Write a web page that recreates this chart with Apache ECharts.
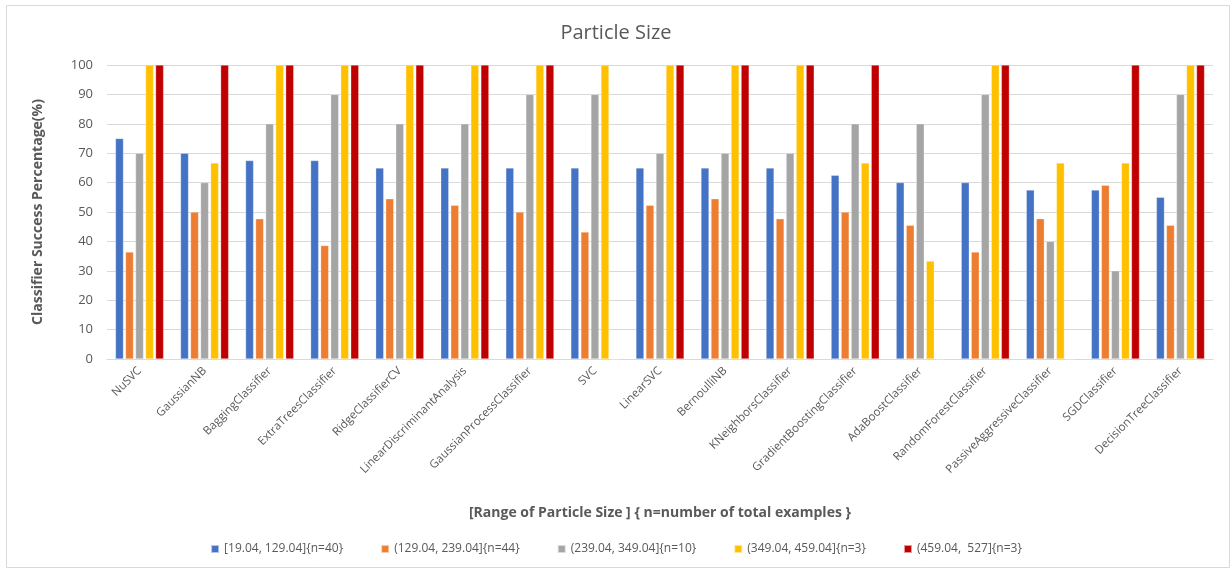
<!DOCTYPE html>
<html>
<head>
<meta charset="utf-8">
<script src="https://cdn.jsdelivr.net/npm/echarts@6/dist/echarts.min.js"></script>
<style>
  html, body { margin: 0; padding: 0; background: #fff; }
  #chart { width: 1232px; height: 574px; }
</style>
</head>
<body>
<div id="chart"></div>
<script>
// Classifier names along the x axis
const classifiers = [
  'NuSVC', 'GaussianNB', 'BaggingClassifier', 'ExtraTreesClassifier', 'RidgeClassifierCV',
  'LinearDiscriminantAnalysis', 'GaussianProcessClassifier', 'SVC', 'LinearSVC', 'BernoulliNB',
  'KNeighborsClassifier', 'GradientBoostingClassifier', 'AdaBoostClassifier', 'RandomForestClassifier',
  'PassiveAggressiveClassifier', 'SGDClassifier', 'DecisionTreeClassifier'
];

// Particle size ranges (one series per range)
const rangeNames = [
  '[19.04, 129.04]{n=40}',
  '(129.04, 239.04]{n=44}',
  '(239.04, 349.04]{n=10}',
  '(349.04, 459.04]{n=3}',
  '(459.04,  527]{n=3}'
];

// Success percentage per classifier for each range
const range1 = [75, 70, 67.5, 67.5, 65, 65, 65, 65, 65, 65, 65, 62.5, 60, 60, 57.5, 57.5, 55];
const range2 = [36.4, 50, 47.7, 38.6, 54.5, 52.3, 50, 43.2, 52.3, 54.5, 47.7, 50, 45.5, 36.4, 47.7, 59.1, 45.5];
const range3 = [70, 60, 80, 90, 80, 80, 90, 90, 70, 70, 70, 80, 80, 90, 40, 30, 90];
const range4 = [100, 66.7, 100, 100, 100, 100, 100, 100, 100, 100, 100, 66.7, 33.3, 100, 66.7, 66.7, 100];
const range5 = [100, 100, 100, 100, 100, 100, 100, 0, 100, 100, 100, 100, 0, 100, 0, 100, 100];

const yTicks = { min: 0, max: 100, interval: 10 };

const seriesData = [range1, range2, range3, range4, range5];
const colors = ['#4472c4', '#ed7d31', '#a5a5a5', '#ffc000', '#c00000'];

const textColor = '#595959';
const fontFamily = '"Open Sans", "Liberation Sans", sans-serif';

const chart = echarts.init(document.getElementById('chart'), null, { renderer: 'canvas' });

chart.setOption({
  backgroundColor: '#fff',
  animation: false,
  color: colors,
  textStyle: { fontFamily: fontFamily },
  title: {
    text: 'Particle Size',
    left: 'center',
    top: 18,
    textStyle: { fontSize: 20, fontWeight: 'normal', color: textColor, fontFamily: fontFamily }
  },
  graphic: [{
    type: 'rect',
    shape: { x: 6.5, y: 5.5, width: 1223, height: 562 },
    style: { fill: 'none', stroke: '#d9d9d9', lineWidth: 1 },
    silent: true
  }],
  legend: {
    bottom: 14,
    left: 'center',
    itemWidth: 8,
    itemHeight: 8,
    itemGap: 37,
    icon: 'rect',
    textStyle: { fontSize: 12, color: textColor, fontFamily: fontFamily },
    data: rangeNames
  },
  grid: { left: 107, right: 19, top: 65, bottom: 215, containLabel: false },
  xAxis: {
    type: 'category',
    data: classifiers,
    name: '[Range of Particle Size ] { n=number of total examples }',
    nameLocation: 'middle',
    nameGap: 147,
    nameTextStyle: { fontSize: 14, fontWeight: 'bold', color: textColor, fontFamily: fontFamily },
    axisLine: { show: true, lineStyle: { color: '#d9d9d9' } },
    axisTick: { show: false },
    axisLabel: {
      interval: 0,
      rotate: 45,
      fontSize: 11.5,
      color: textColor,
      margin: 10,
      fontFamily: fontFamily
    }
  },
  yAxis: {
    type: 'value',
    min: yTicks.min,
    max: yTicks.max,
    interval: yTicks.interval,
    name: 'Classifier Success Percentage(%)',
    nameLocation: 'middle',
    nameGap: 62,
    nameRotate: 90,
    nameTextStyle: { fontSize: 14, fontWeight: 'bold', color: textColor, fontFamily: fontFamily },
    axisLine: { show: false },
    axisTick: { show: false },
    axisLabel: { fontSize: 13, color: textColor, margin: 14, fontFamily: fontFamily },
    splitLine: { lineStyle: { color: '#d9d9d9', width: 1 } }
  },
  series: rangeNames.map((name, i) => ({
    name: name,
    type: 'bar',
    data: seriesData[i],
    barGap: '25%',
    barCategoryGap: '26%',
    itemStyle: { color: colors[i], borderColor: 'rgba(255,255,255,0.6)', borderWidth: 0.5 }
  }))
});
</script>
</body>
</html>
